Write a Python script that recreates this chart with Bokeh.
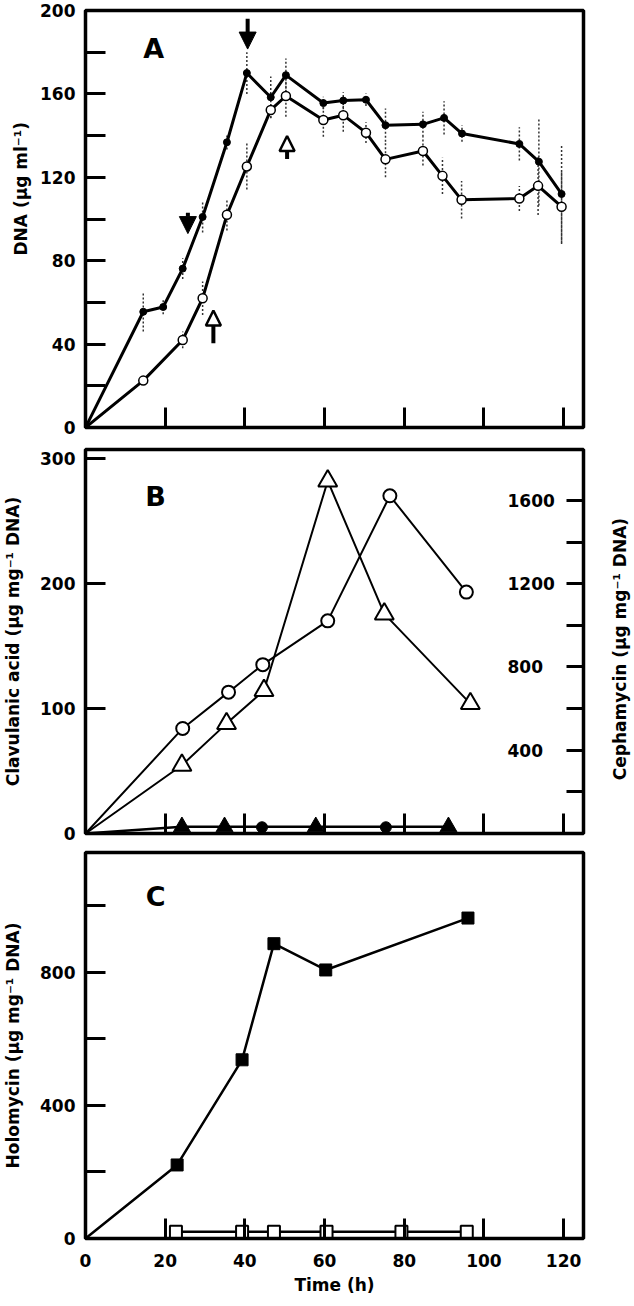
import numpy as np
from bokeh.plotting import figure
from bokeh.models import Range1d, LinearAxis, FixedTicker, Label, Arrow, NormalHead, Title
from bokeh.layouts import column
from bokeh.embed import file_html
from bokeh.resources import INLINE

FONT = "DejaVu Sans"

# ---------------- Panel A : DNA (ug/ml) ----------------
a_t_filled = [0, 14.5, 19.5, 24.4, 29.4, 35.5, 40.5, 46.5, 50.3, 59.7, 64.7, 70.4, 75.3, 84.7, 90.0, 94.5, 108.9, 113.8, 119.5]
a_v_filled = [0, 55.5, 57.8, 76.2, 101, 136.8, 170, 158.4, 169, 155.6, 156.8, 157.2, 145, 145.4, 148.5, 141, 136, 127.5, 112]
a_e_filled = [0, 9.5, 3.5, 5, 7.5, 3.5, 10, 10, 8, 3, 4, 3, 8, 6, 8, 4, 8, 21, 24]

a_t_open = [0, 14.5, 24.4, 29.4, 35.5, 40.5, 46.5, 50.3, 59.7, 64.7, 70.4, 75.3, 84.7, 89.6, 94.4, 108.9, 113.6, 119.5]
a_v_open = [0, 22.5, 42, 62, 102, 125.2, 152.3, 159, 147.5, 149.8, 141.4, 128.6, 132.6, 120.7, 109.2, 109.8, 115.9, 105.9]
a_e_open = [0, 0, 4, 8, 7.5, 11, 4, 10, 8, 8, 5, 8.6, 7, 8.7, 9, 6, 14, 17]

# arrows: (x, y_start, y_end)
arrows_solid = [(40.7, 196, 181.5), (25.7, 103, 93)]
arrows_open = [(50.6, 128.8, 139.8), (32.1, 40.4, 56.1)]

# ---------------- Panel B ----------------
b_t_clav = [0, 24.4, 35.9, 44.5, 60.8, 76.4, 95.6]
b_v_clav = [0, 84, 113, 135, 170, 270, 193]
b_t_ceph = [0, 24.2, 35.4, 44.8, 60.8, 75.0, 96.6]
b_v_ceph = [0, 328, 528, 687, 1694, 1055, 624]
b_t_ceph_mut = [0, 24.2, 34.9, 57.8, 91.1]
b_v_ceph_mut = [0, 32, 32, 32, 32]
b_t_clav_mut = [44.3, 75.4]
b_v_clav_mut = [5, 5]

# ---------------- Panel C ----------------
c_t_holo = [0, 23.0, 39.3, 47.3, 60.3, 96.0]
c_v_holo = [0, 221, 537, 886, 807, 963]
c_t_holo_mut = [22.7, 39.3, 47.3, 60.5, 79.3, 95.7]
c_v_holo_mut = [20, 20, 20, 20, 20, 20]

x_ticks = [20, 40, 60, 80, 100, 120]
NB = "\u00a0"

def base_fig(height, top, bottom, y_range):
    p = figure(width=642, height=height, x_range=Range1d(0, 125), y_range=y_range,
               output_backend="svg", toolbar_location=None,
               min_border_left=80, min_border_right=54,
               min_border_top=top, min_border_bottom=bottom)
    p.grid.visible = False
    p.outline_line_color = "black"
    p.outline_line_width = 3.5
    p.background_fill_color = "white"
    p.border_fill_color = "white"
    for ax in p.xaxis + p.yaxis:
        ax.axis_line_color = None
        ax.major_tick_out = 0
        ax.minor_tick_out = 0
        ax.major_tick_in = 20
        ax.minor_tick_in = 20
        ax.major_tick_line_width = 3
        ax.minor_tick_line_width = 3
        ax.major_label_text_font = FONT
        ax.major_label_text_font_style = "bold"
        ax.major_label_text_font_size = "17px"
        ax.major_label_text_color = "black"
        ax.axis_label_text_font = FONT
        ax.axis_label_text_font_style = "bold"
        ax.axis_label_text_font_size = "17px"
        ax.axis_label_text_color = "black"
        ax.major_label_standoff = 10
    return p

def hide_x_labels(p):
    p.xaxis.ticker = FixedTicker(ticks=x_ticks)
    p.xaxis.major_label_overrides = {t: "" for t in x_ticks}
    p.xaxis.major_label_text_font_size = "1px"
    p.xaxis.major_label_standoff = 0

def panel_letter(p, x, y, txt):
    p.add_layout(Label(x=x, y=y, text=txt, text_font=FONT, text_font_style="bold",
                       text_color="black", text_font_size="27px",
                       text_align="center", text_baseline="middle"))

# ---- A ----
pA = base_fig(442, 13, 12, Range1d(0, 200))
hide_x_labels(pA)
pA.yaxis.ticker = FixedTicker(ticks=[0, 40, 80, 120, 160, 200], minor_ticks=[20, 60, 100, 140, 180])
pA.add_layout(Title(text="DNA (\u00b5g ml\u207b\u00b9)", align="left", offset=172, standoff=14,
                    text_font=FONT, text_font_style="bold", text_font_size="17px",
                    text_color="black"), "left")

tf, vf, ef = map(np.array, (a_t_filled, a_v_filled, a_e_filled))
to, vo, eo = map(np.array, (a_t_open, a_v_open, a_e_open))
m = ef > 0
pA.segment(tf[m], vf[m] - ef[m], tf[m], vf[m] + ef[m], line_dash="2 2", line_width=1.5, line_color="#333333")
m = eo > 0
pA.segment(to[m], vo[m] - eo[m], to[m], vo[m] + eo[m], line_dash="2 2", line_width=1.5, line_color="#333333")
pA.line(tf, vf, line_width=3, line_color="black")
pA.line(to, vo, line_width=3, line_color="black")
pA.scatter(tf[1:], vf[1:], marker="circle", size=7, fill_color="black", line_color="black")
pA.scatter(to[1:], vo[1:], marker="circle", size=9, fill_color="white", line_color="black", line_width=1.5)

for x, y0, y1 in arrows_solid:
    pA.add_layout(Arrow(end=NormalHead(size=17, fill_color="black", line_color="black", line_width=1),
                        x_start=x, y_start=y0, x_end=x, y_end=y1, line_width=4, line_color="black"))
for x, y0, y1 in arrows_open:
    pA.add_layout(Arrow(end=NormalHead(size=15, fill_color="white", line_color="black", line_width=2.5),
                        x_start=x, y_start=y0, x_end=x, y_end=y1, line_width=4, line_color="black"))

panel_letter(pA, 17.1, 181.8, "A")

# ---- B ----
pB = base_fig(405, 10, 11, Range1d(0, 307))
hide_x_labels(pB)
pB.yaxis.ticker = FixedTicker(ticks=[0, 100, 200, 300])
pB.yaxis.axis_label = "Clavulanic acid (\u00b5g mg\u207b\u00b9 DNA)"
pB.yaxis.axis_label_standoff = 14
pB.extra_y_ranges = {"ceph": Range1d(0, 1845)}
rax = LinearAxis(y_range_name="ceph",
                 ticker=FixedTicker(ticks=[400, 800, 1200, 1600], minor_ticks=[200, 600, 1000, 1400]),
                 axis_line_color=None, major_tick_out=0, minor_tick_out=0,
                 major_tick_in=17, minor_tick_in=17, major_tick_line_width=3, minor_tick_line_width=3,
                 major_label_text_font=FONT, major_label_text_font_style="bold",
                 major_label_text_font_size="17px", major_label_text_color="black",
                 major_label_standoff=-76,
                 axis_label=NB * 9 + "Cephamycin (\u00b5g mg\u207b\u00b9 DNA)", axis_label_standoff=62,
                 axis_label_text_font=FONT, axis_label_text_font_style="bold",
                 axis_label_text_font_size="17px", axis_label_text_color="black")
try:
    rax.axis_label_orientation = np.pi / 2
except Exception:
    pass
try:
    rax.axis_label_align = "start"
except Exception:
    pass
pB.add_layout(rax, "right")

pB.line(b_t_clav, b_v_clav, line_width=2, line_color="black")
pB.line(b_t_ceph, b_v_ceph, line_width=2, line_color="black", y_range_name="ceph")
pB.line(b_t_ceph_mut, b_v_ceph_mut, line_width=2.5, line_color="black", y_range_name="ceph")
pB.scatter(b_t_clav[1:], b_v_clav[1:], marker="circle", size=13, fill_color="white", line_color="black", line_width=2)
pB.scatter(b_t_ceph[1:], b_v_ceph[1:], marker="triangle", size=19, fill_color="white", line_color="black", line_width=2, y_range_name="ceph")
pB.scatter(b_t_ceph_mut[1:], b_v_ceph_mut[1:], marker="triangle", size=17, fill_color="black", line_color="black", y_range_name="ceph")
pB.scatter(b_t_clav_mut, b_v_clav_mut, marker="circle", size=11, fill_color="black", line_color="black")
panel_letter(pB, 17.6, 269.6, "B")

# ---- C ----
pC = base_fig(459, 8, 65, Range1d(0, 1160))
pC.xaxis.ticker = FixedTicker(ticks=[0] + x_ticks)
pC.xaxis.major_label_standoff = 15
pC.xaxis.axis_label = "Time (h)"
pC.xaxis.axis_label_standoff = 5
pC.yaxis.ticker = FixedTicker(ticks=[0, 400, 800], minor_ticks=[200, 600, 1000])
pC.yaxis.axis_label = "Holomycin (\u00b5g mg\u207b\u00b9 DNA)"
pC.yaxis.axis_label_standoff = 14

pC.line(c_t_holo_mut, c_v_holo_mut, line_width=2.5, line_color="black")
pC.line(c_t_holo, c_v_holo, line_width=2.5, line_color="black")
pC.scatter(c_t_holo[1:], c_v_holo[1:], marker="square", size=12, fill_color="black", line_color="black")
pC.scatter(c_t_holo_mut, c_v_holo_mut, marker="square", size=12, fill_color="white", line_color="black", line_width=2)
panel_letter(pC, 17.6, 1028, "C")

layout = column(pA, pB, pC, spacing=0, margin=(-3, 0, 0, 0))
open("out.html", "w").write(file_html(layout, INLINE))
